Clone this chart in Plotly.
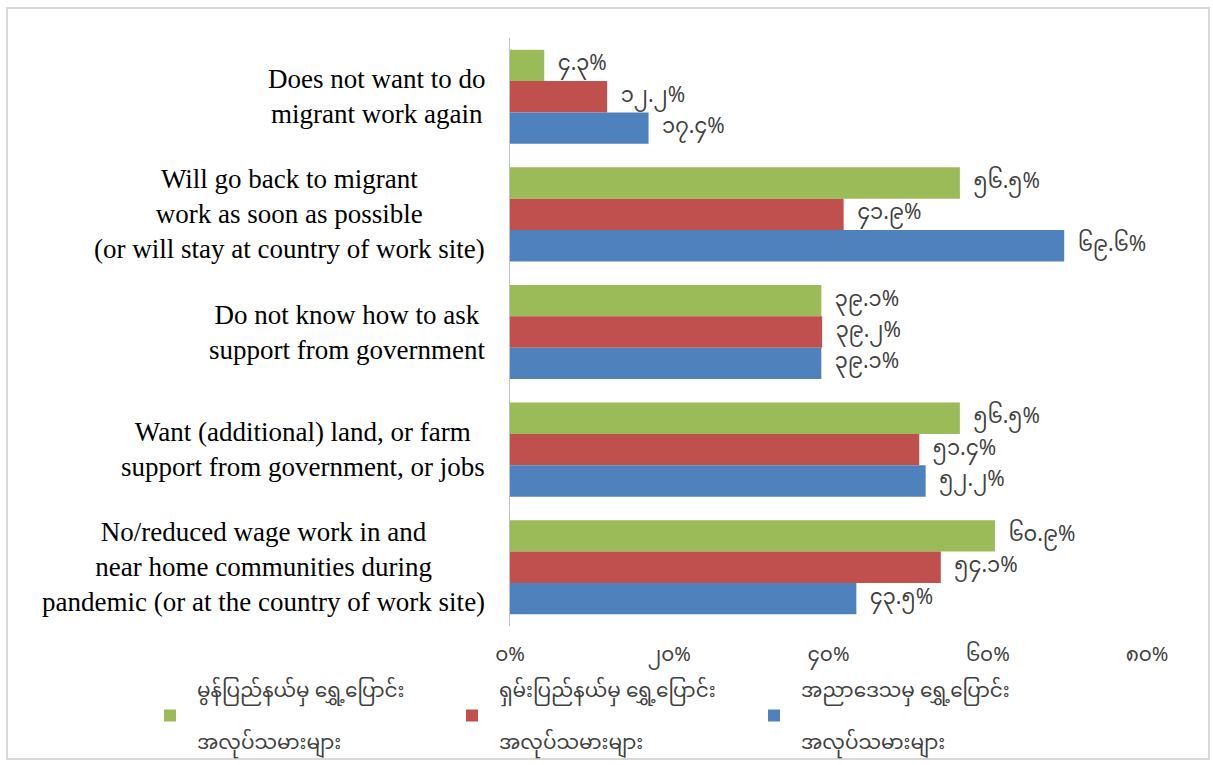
import plotly.graph_objects as go

# Survey answers (top to bottom) and share of migrant workers per origin region
categories = [
    "Does not want to do<br>migrant work again",
    "Will go back to migrant<br>work as soon as possible<br>(or will stay at country of work site)",
    "Do not know how to ask<br>support from government",
    "Want (additional) land, or farm<br>support from government, or jobs",
    "No/reduced wage work in and<br>near home communities during<br>pandemic (or at the country of work site)",
]
series_names = [
    "မွန်ပြည်နယ်မှ ရွှေ့ပြောင်း<br> <br>အလုပ်သမားများ",
    "ရှမ်းပြည်နယ်မှ ရွှေ့ပြောင်း<br> <br>အလုပ်သမားများ",
    "အညာဒေသမှ ရွှေ့ပြောင်း<br> <br>အလုပ်သမားများ",
]
mon_values = [4.3, 56.5, 39.1, 56.5, 60.9]
shan_values = [12.2, 41.9, 39.2, 51.4, 54.1]
dry_zone_values = [17.4, 69.6, 39.1, 52.2, 43.5]
tick_values = [0, 20, 40, 60, 80]

colors = ["#9BBB59", "#C0504D", "#4F81BD"]
MM_DIGITS = str.maketrans("0123456789", "၀၁၂၃၄၅၆၇၈၉")


def mm(text):
    return text.translate(MM_DIGITS)


MM_FONT = "Noto Sans Myanmar, Myanmar Text, Padauk, Noto Sans, sans-serif"

fig = go.Figure()
for name, vals, col in zip(series_names, [mon_values, shan_values, dry_zone_values], colors):
    fig.add_trace(go.Bar(
        y=categories,
        x=vals,
        name=name,
        orientation="h",
        marker=dict(color=col, line=dict(width=0)),
        text=["\u2002" + mm(f"{v:.1f}%") for v in vals],
        textposition="outside",
        constraintext="none",
        cliponaxis=False,
        textfont=dict(family=MM_FONT, size=21, color="#404040"),
    ))

# Category labels, centred line by line and right-aligned to the axis
for cat in categories:
    fig.add_annotation(
        x=-0.036, xref="paper", y=cat, yref="y",
        text=cat, showarrow=False, xanchor="right", align="center",
        font=dict(family="Liberation Serif, Times New Roman, serif", size=27, color="#000000"),
    )

W, H = 1213, 765
ML, MR, MT, MB = 510, 66, 38, 139
pw, ph = W - ML - MR, H - MT - MB

# Light grey frame around the whole chart
fig.add_shape(
    type="rect", xref="paper", yref="paper",
    x0=(7 - ML) / pw, x1=(1209 - ML) / pw,
    y0=1 - (759 - MT) / ph, y1=1 - (8 - MT) / ph,
    line=dict(color="#D9D9D9", width=2), fillcolor="rgba(0,0,0,0)", layer="below",
)

fig.update_layout(
    width=W, height=H,
    margin=dict(l=ML, r=MR, t=MT, b=MB, autoexpand=False),
    paper_bgcolor="white", plot_bgcolor="white",
    barmode="group", bargap=0.2, bargroupgap=0,
    showlegend=True,
    legend=dict(
        orientation="h",
        x=(143 - ML) / pw, xanchor="left",
        y=-(670 - MT - ph) / ph, yanchor="top",
        bgcolor="rgba(0,0,0,0)",
        entrywidth=243, entrywidthmode="pixels",
        font=dict(family=MM_FONT, size=20, color="#404040"),
        itemwidth=44,
    ),
    xaxis=dict(
        range=[0, 80], tickvals=tick_values,
        ticktext=[mm(f"{t}%") for t in tick_values],
        showgrid=False, zeroline=False, showline=False,
        ticks="outside", ticklen=10, tickcolor="rgba(0,0,0,0)",
        tickfont=dict(family=MM_FONT, size=20, color="#404040"),
    ),
    yaxis=dict(
        autorange="reversed", showticklabels=False,
        showgrid=False, zeroline=False,
        showline=True, linecolor="#BFBFBF", linewidth=1,
    ),
)

fig.write_html("out.html")
